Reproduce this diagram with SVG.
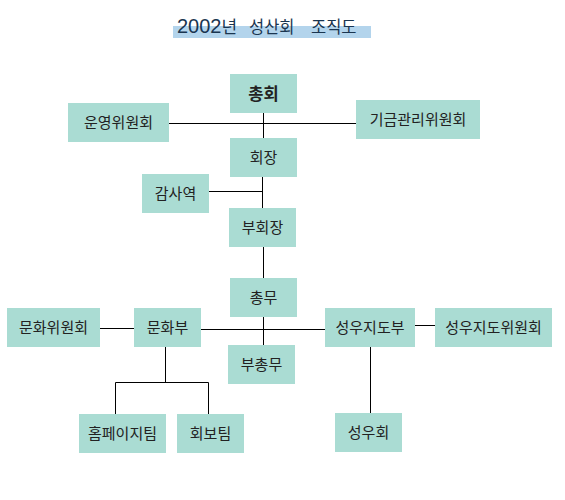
<svg xmlns="http://www.w3.org/2000/svg" width="565" height="500" viewBox="0 0 565 500">
<style>
.n{fill:#aadcd3}
.t{font-family:"Liberation Sans","Noto Sans CJK KR",sans-serif;font-size:15px;fill:#222;text-anchor:middle;dominant-baseline:central}
.c{stroke:#000;stroke-width:1;fill:none}
.h{font-family:"Liberation Sans","Noto Sans CJK KR",sans-serif;fill:#1a3550}
</style>
<rect width="565" height="500" fill="#fff"/>
<g id="title">
<rect x="173" y="26" width="198" height="12" fill="#b3d4ec"/>
<text class="h" x="177" y="33" font-size="20"><tspan>2002</tspan><tspan font-size="17">년</tspan><tspan x="249" font-size="16.5">성산회</tspan><tspan x="311" font-size="16.5">조직도</tspan></text>
</g>
<g id="connectors" class="c">
<line x1="263.5" y1="113" x2="263.5" y2="138"/>
<line x1="169" y1="123.5" x2="356" y2="123.5"/>
<line x1="262.5" y1="177" x2="262.5" y2="208"/>
<line x1="209" y1="191.5" x2="262.5" y2="191.5"/>
<line x1="263.5" y1="247" x2="263.5" y2="278"/>
<line x1="263.5" y1="317" x2="263.5" y2="345"/>
<line x1="100" y1="328.5" x2="134" y2="328.5"/>
<line x1="201" y1="329.5" x2="325" y2="329.5"/>
<line x1="415" y1="325.5" x2="435" y2="325.5"/>
<line x1="165.5" y1="347" x2="165.5" y2="382.5"/>
<path d="M115.5 414V382.5H208.5V414"/>
<line x1="370.5" y1="347" x2="370.5" y2="413"/>
</g>
<g id="n-chonghoe"><rect class="n" x="230" y="74" width="67" height="39"/><text class="t" x="263.5" y="93.5" style="font-size:16.5px;font-weight:bold">총회</text></g>
<g id="n-unyeong"><rect class="n" x="68" y="103" width="101" height="39"/><text class="t" x="118.5" y="122.5">운영위원회</text></g>
<g id="n-gigeum"><rect class="n" x="356" y="100" width="124" height="39"/><text class="t" x="418" y="119.5">기금관리위원회</text></g>
<g id="n-hoejang"><rect class="n" x="230" y="138" width="67" height="39"/><text class="t" x="263.5" y="157.5">회장</text></g>
<g id="n-gamsa"><rect class="n" x="142" y="174" width="67" height="39"/><text class="t" x="175.5" y="193.5">감사역</text></g>
<g id="n-buhoejang"><rect class="n" x="229" y="208" width="67" height="39"/><text class="t" x="262.5" y="227.5">부회장</text></g>
<g id="n-chongmu"><rect class="n" x="230" y="278" width="67" height="39"/><text class="t" x="263.5" y="297.5">총무</text></g>
<g id="n-bu-chongmu"><rect class="n" x="228" y="345" width="67" height="39"/><text class="t" x="261.5" y="364.5">부총무</text></g>
<g id="n-munhwa-wiwon"><rect class="n" x="7" y="308" width="93" height="39"/><text class="t" x="53.5" y="327.5">문화위원회</text></g>
<g id="n-munhwabu"><rect class="n" x="134" y="308" width="67" height="39"/><text class="t" x="167.5" y="327.5">문화부</text></g>
<g id="n-seongu-jidobu"><rect class="n" x="325" y="308" width="90" height="39"/><text class="t" x="370" y="327.5">성우지도부</text></g>
<g id="n-seongu-wiwon"><rect class="n" x="435" y="308" width="117" height="39"/><text class="t" x="493.5" y="327.5">성우지도위원회</text></g>
<g id="n-homepage"><rect class="n" x="79" y="414" width="87" height="39"/><text class="t" x="122.5" y="433.5">홈페이지팀</text></g>
<g id="n-hoebo"><rect class="n" x="177" y="414" width="67" height="39"/><text class="t" x="210.5" y="433.5">회보팀</text></g>
<g id="n-seonguhoe"><rect class="n" x="335" y="413" width="67" height="39"/><text class="t" x="368.5" y="432.5">성우회</text></g>
</svg>
